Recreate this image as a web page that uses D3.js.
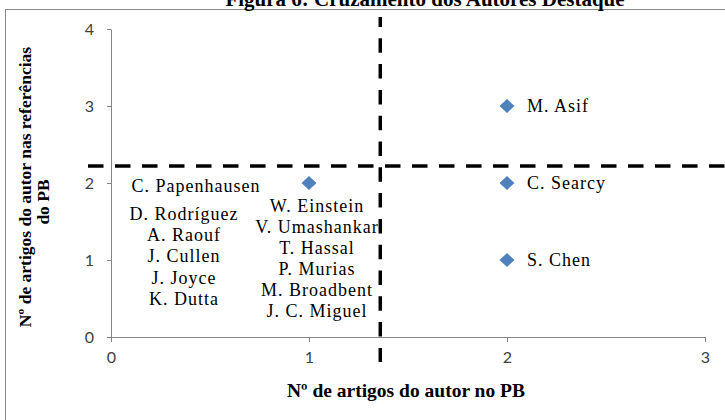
<!DOCTYPE html>
<html>
<head>
<meta charset="utf-8">
<script src="https://cdn.jsdelivr.net/npm/d3@7"></script>
<style>
  body { margin: 0; background: #fff; }
  svg { display: block; }
</style>
</head>
<body>
<svg id="chart" width="725" height="420"></svg>
<script>
// Autores em destaque: artigos no PB x artigos nas referências do PB
const autores = ["C. Papenhausen", "M. Asif", "C. Searcy", "S. Chen"];
const artigosNoPB = [1, 2, 2, 2];
const artigosNasReferencias = [2, 3, 2, 1];

// Autores que compartilham o ponto (1, 2)
const empatadosEsquerda = ["D. Rodríguez", "A. Raouf", "J. Cullen", "J. Joyce", "K. Dutta"];
const empatadosDireita = ["W. Einstein", "V. Umashankar", "T. Hassal", "P. Murias", "M. Broadbent", "J. C. Miguel"];

const ticksX = [0, 1, 2, 3];
const ticksY = [0, 1, 2, 3, 4];

// Linhas de corte dos quadrantes
const corteX = 1.36;
const corteY = 2.22;

const titulo = "Figura 6: Cruzamento dos Autores Destaque";
const tituloEixoX = "Nº de artigos do autor no PB";
const tituloEixoY = ["Nº de artigos do autor nas referências", "do PB"];

const svg = d3.select("#chart");
const serif = "'Liberation Serif', 'Times New Roman', serif";
const sans = "Lato, 'Open Sans', sans-serif";

const x = d3.scaleLinear().domain([0, 3]).range([111, 705]);
const y = d3.scaleLinear().domain([0, 4]).range([337, 29]);

// moldura da área do gráfico
svg.append("rect")
  .attr("x", 5.5).attr("y", 9.5)
  .attr("width", 740).attr("height", 430)
  .attr("fill", "none").attr("stroke", "#8a8a8a").attr("stroke-width", 1);

// título (parcialmente cortado no topo)
svg.append("text")
  .attr("x", 425).attr("y", 6)
  .attr("text-anchor", "middle")
  .attr("font-family", serif).attr("font-weight", "bold").attr("font-size", 21)
  .text(titulo);

// eixos
const eixoY = svg.append("g")
  .attr("transform", `translate(${x(0)},0)`)
  .call(d3.axisLeft(y).tickValues(ticksY).tickFormat(d3.format("d"))
    .tickSize(4).tickSizeOuter(0).tickPadding(13));
const eixoX = svg.append("g")
  .attr("transform", `translate(0,${y(0)})`)
  .call(d3.axisBottom(x).tickValues(ticksX).tickFormat(d3.format("d"))
    .tickSize(5).tickSizeOuter(0).tickPadding(10));

[eixoX, eixoY].forEach(g => {
  g.select(".domain").attr("stroke", "#868686");
  g.selectAll(".tick line").attr("stroke", "#868686");
  g.selectAll(".tick text")
    .attr("font-family", sans).attr("font-size", 16).attr("fill", "#404040");
});

// títulos dos eixos
svg.append("text")
  .attr("x", 406).attr("y", 397)
  .attr("text-anchor", "middle")
  .attr("font-family", serif).attr("font-weight", "bold").attr("font-size", 19.5)
  .text(tituloEixoX);

const centrosY = [187, 202];
const linhasBase = [31, 49];
tituloEixoY.forEach((linha, i) => {
  svg.append("text")
    .attr("transform", `translate(${linhasBase[i]},${centrosY[i]}) rotate(-90)`)
    .attr("text-anchor", "middle")
    .attr("font-family", serif).attr("font-weight", "bold").attr("font-size", 17.5)
    .text(linha);
});

// linhas tracejadas dos quadrantes
svg.append("line")
  .attr("x1", x(corteX)).attr("x2", x(corteX))
  .attr("y1", 17).attr("y2", 362)
  .attr("stroke", "#000").attr("stroke-width", 3.5)
  .attr("stroke-dasharray", "14.5,11.3").attr("stroke-dashoffset", 4.5);
svg.append("line")
  .attr("x1", 88).attr("x2", 725)
  .attr("y1", y(corteY)).attr("y2", y(corteY))
  .attr("stroke", "#000").attr("stroke-width", 3.5)
  .attr("stroke-dasharray", "15.5,11.5");

// pontos
const pontos = autores.map((nome, i) => ({ nome, px: artigosNoPB[i], py: artigosNasReferencias[i] }));
svg.append("g").selectAll("path")
  .data(pontos)
  .join("path")
  .attr("transform", d => `translate(${x(d.px)},${y(d.py)})`)
  .attr("d", "M0,-7L7.5,0L0,7L-7.5,0Z")
  .attr("fill", "#4F81BD");

// rótulos
const rotulo = sel => sel
  .attr("font-family", serif).attr("font-size", 18)
  .attr("letter-spacing", 1).attr("fill", "#000");

pontos.forEach(d => {
  const t = svg.append("text").call(rotulo);
  if (d.px === 1) {
    t.attr("x", x(d.px) - 113).attr("y", y(d.py) + 9)
      .attr("text-anchor", "middle").text(d.nome);
  } else {
    t.attr("x", x(d.px) + 20).attr("y", y(d.py) + 6).text(d.nome);
  }
});

const base = { px: 1, py: 2 };
empatadosEsquerda.forEach((nome, i) => {
  svg.append("text").call(rotulo)
    .attr("x", x(base.px) - 125)
    .attr("y", y(base.py) + 37 + i * 21.2)
    .attr("text-anchor", "middle")
    .text(nome);
});
empatadosDireita.forEach((nome, i) => {
  svg.append("text").call(rotulo)
    .attr("x", x(base.px) + 8)
    .attr("y", y(base.py) + 29 + i * 21)
    .attr("text-anchor", "middle")
    .text(nome);
});
</script>
</body>
</html>
